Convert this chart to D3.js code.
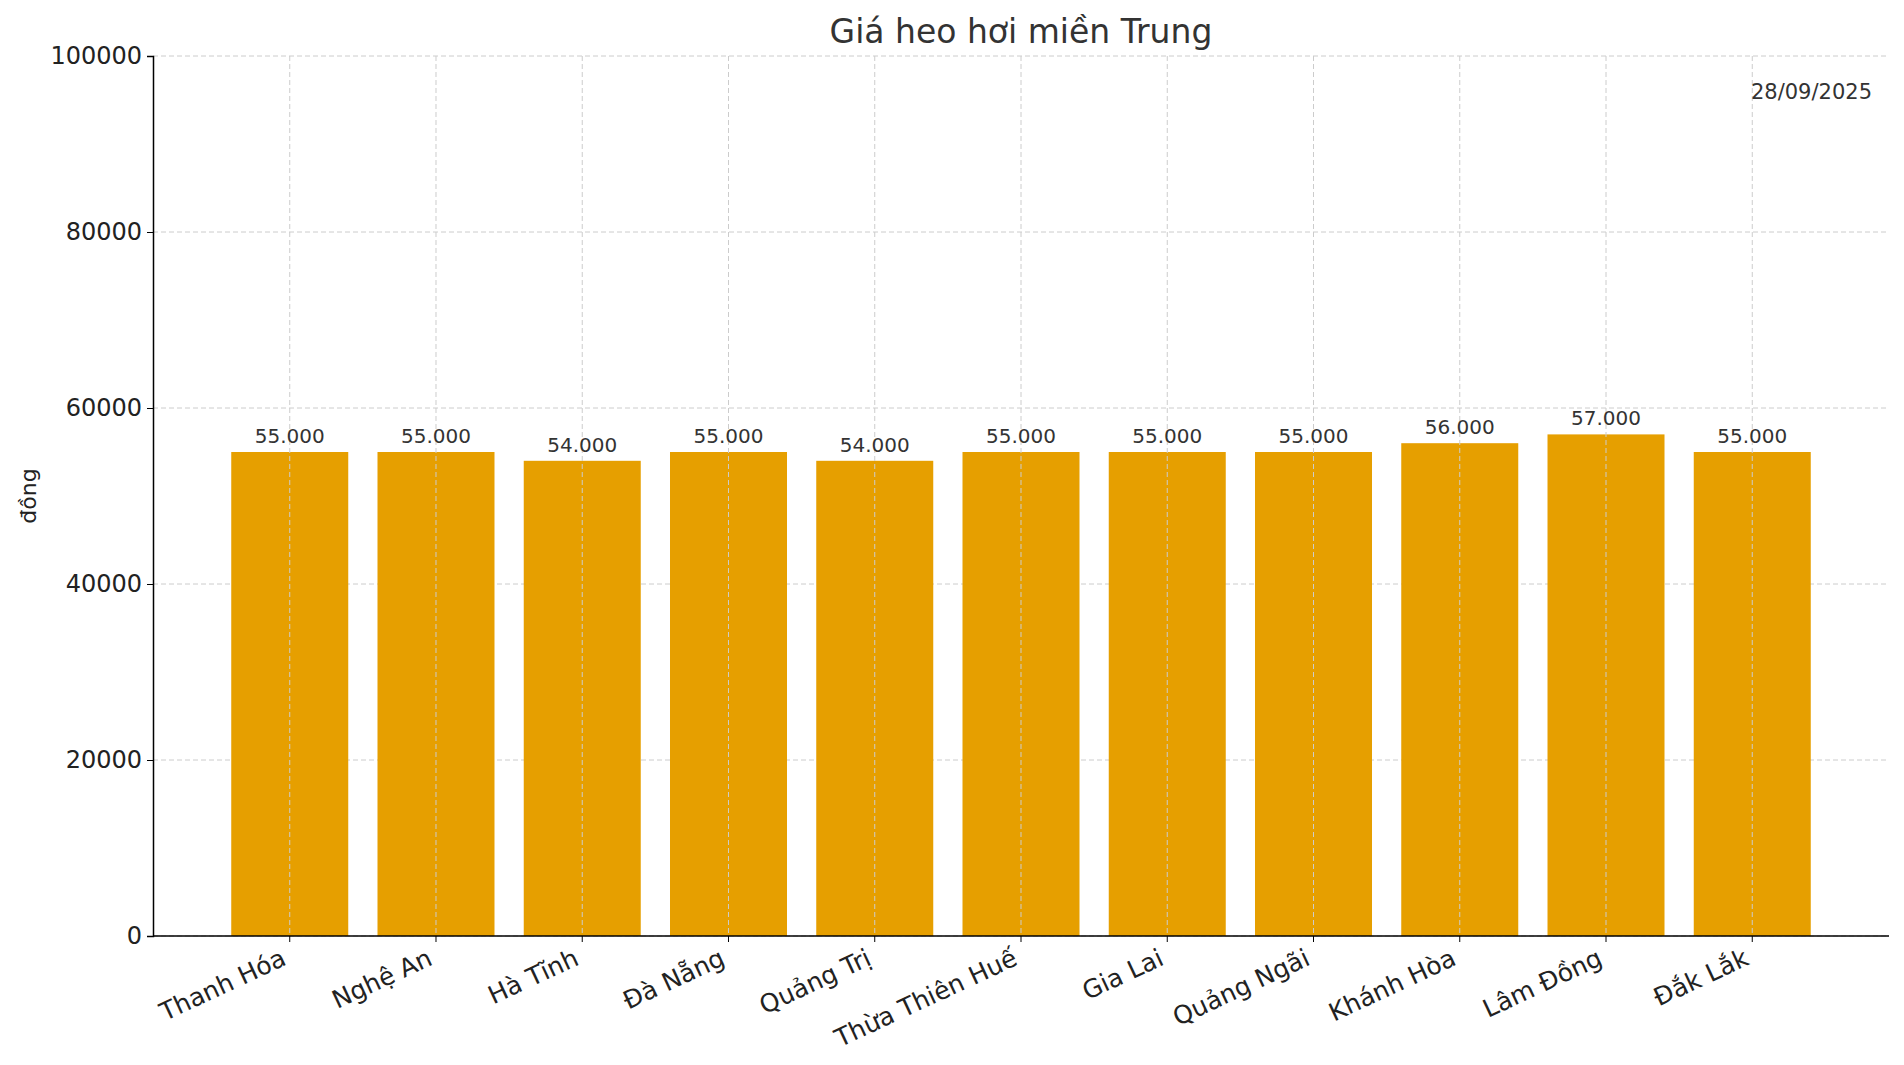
<!DOCTYPE html>
<html><head><meta charset="utf-8">
<script src="https://cdn.jsdelivr.net/npm/d3@7"></script>
<style>body{margin:0;background:#fff}text{font-family:"DejaVu Sans",sans-serif}</style>
</head><body><svg id="c" width="1904" height="1065"></svg>
<script>
const categories=["Thanh Hóa","Nghệ An","Hà Tĩnh","Đà Nẵng","Quảng Trị","Thừa Thiên Huế","Gia Lai","Quảng Ngãi","Khánh Hòa","Lâm Đồng","Đắk Lắk"];
const values=[55000,55000,54000,55000,54000,55000,55000,55000,56000,57000,55000];
const yTicks=[0,20000,40000,60000,80000,100000];
const svg=d3.select("#c");
const L=153,R=1889,T=56,B=936;
const x=d3.scaleBand().domain(categories).range([L,R]).paddingInner(0.2).paddingOuter(0.535);
const y=d3.scaleLinear().domain([0,100000]).range([B,T]);
const g=svg.append("g");
g.selectAll(".gy").data(yTicks).join("line").attr("x1",L).attr("x2",R).attr("y1",d=>y(d)).attr("y2",d=>y(d)).attr("stroke","#ccc").attr("stroke-dasharray","5,3");
g.selectAll(".bar").data(values).join("rect").attr("x",(d,i)=>x(categories[i])).attr("width",x.bandwidth()).attr("y",d=>y(d)).attr("height",d=>B-y(d)).attr("fill","#E69F00");
g.selectAll(".gx").data(categories).join("line").attr("x1",d=>x(d)+x.bandwidth()/2).attr("x2",d=>x(d)+x.bandwidth()/2).attr("y1",T).attr("y2",B).attr("stroke","#ccc").attr("stroke-dasharray","5,3");
g.selectAll(".vl").data(values).join("text").attr("x",(d,i)=>x(categories[i])+x.bandwidth()/2).attr("y",d=>y(d)-9).attr("text-anchor","middle").attr("font-size",20).attr("fill","#333").text(d=>d3.format(",")(d).replace(/,/g,"."));
const ya=svg.append("g").attr("transform",`translate(${L},0)`).call(d3.axisLeft(y).tickValues(yTicks).tickFormat(d=>d).tickSize(6).tickPadding(5));
ya.selectAll("text").attr("font-size",24).attr("fill","#222").attr("font-family","DejaVu Sans");
ya.select(".domain").attr("stroke","#000").attr("stroke-width",1.5);
const xa=svg.append("g").attr("transform",`translate(0,${B})`).call(d3.axisBottom(x).tickSize(6).tickSizeOuter(0));
xa.select(".domain").attr("d",`M${L},0H${R}`).attr("stroke","#000").attr("stroke-width",1.5);
xa.selectAll("text").attr("font-size",25).attr("fill","#222").attr("font-family","DejaVu Sans").attr("text-anchor","end").attr("y",0).attr("dy","0").attr("transform","translate(-2,28) rotate(-25)");
svg.append("text").attr("x",(L+R)/2).attr("y",43).attr("text-anchor","middle").attr("font-size",33).attr("fill","#333").text("Giá heo hơi miền Trung");
svg.append("text").attr("transform",`translate(36,${(T+B)/2}) rotate(-90)`).attr("text-anchor","middle").attr("font-size",22).attr("fill","#222").text("đồng");
svg.append("text").attr("x",1872).attr("y",99).attr("text-anchor","end").attr("font-size",21).attr("fill","#333").text("28/09/2025");
</script></body></html>
